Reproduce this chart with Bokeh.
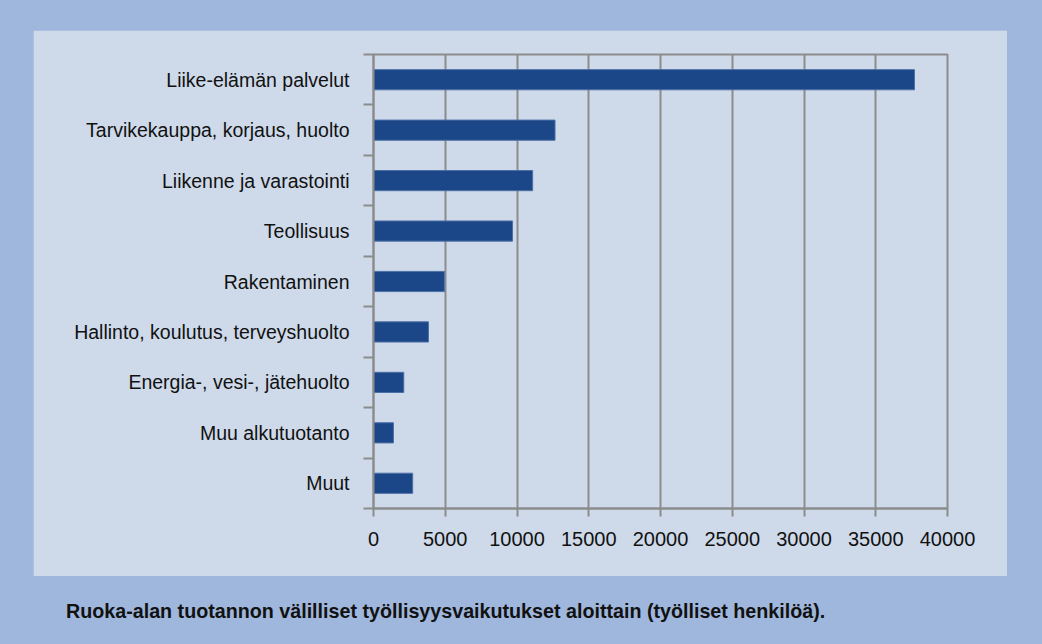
from bokeh.plotting import figure
from bokeh.models import Range1d, FixedTicker, LinearAxis, Div, Grid
from bokeh.layouts import column
from bokeh.embed import file_html
from bokeh.resources import INLINE

categories = [
    "Liike-elämän palvelut",
    "Tarvikekauppa, korjaus, huolto",
    "Liikenne ja varastointi",
    "Teollisuus",
    "Rakentaminen",
    "Hallinto, koulutus, terveyshuolto",
    "Energia-, vesi-, jätehuolto",
    "Muu alkutuotanto",
    "Muut",
]
values = [37700, 12650, 11090, 9690, 4940, 3830, 2110, 1390, 2730]
x_ticks = [0, 5000, 10000, 15000, 20000, 25000, 30000, 35000, 40000]
caption = "Ruoka-alan tuotannon välilliset työllisyysvaikutukset aloittain (työlliset henkilöä)."

FONT = "Liberation Sans, Arial, sans-serif"
GRID = "#8c8c8c"
OUTER = "#9fb7dc"
INNER = "#cedaea"
BAR = "#1b4687"

n = len(categories)
centers = [i + 0.5 for i in range(n)]
bounds = list(range(n + 1))

p = figure(width=974, height=546, output_backend="svg", toolbar_location=None,
           x_range=Range1d(x_ticks[0], x_ticks[-1]), y_range=Range1d(n, 0),
           x_axis_type=None, y_axis_type=None,
           min_border_left=340, min_border_right=60, min_border_top=24, min_border_bottom=68)
p.background_fill_color = INNER
p.border_fill_color = INNER
p.outline_line_color = GRID
p.outline_line_width = 2

p.hbar(y=centers, right=values, left=0, height=0.4, fill_color=BAR, line_color="#4d70a6", line_width=1)

xaxis = LinearAxis(ticker=FixedTicker(ticks=x_ticks, minor_ticks=[]))
xaxis.axis_line_color = GRID
xaxis.axis_line_width = 2
xaxis.major_tick_line_color = GRID
xaxis.major_tick_line_width = 2
xaxis.major_tick_in = 0
xaxis.major_tick_out = 8
xaxis.major_label_standoff = 15
xaxis.major_label_text_font = FONT
xaxis.major_label_text_font_size = "20px"
xaxis.major_label_text_color = "#111111"
p.add_layout(xaxis, "below")

yaxis = LinearAxis(ticker=FixedTicker(ticks=centers, minor_ticks=bounds))
yaxis.major_label_overrides = {c: name for c, name in zip(centers, categories)}
yaxis.axis_line_color = GRID
yaxis.axis_line_width = 2
yaxis.major_tick_line_color = None
yaxis.major_tick_in = 0
yaxis.major_tick_out = 0
yaxis.minor_tick_line_color = GRID
yaxis.minor_tick_line_width = 2
yaxis.minor_tick_in = 0
yaxis.minor_tick_out = 10
yaxis.major_label_standoff = 14
yaxis.major_label_text_font = FONT
yaxis.major_label_text_font_size = "19.5px"
yaxis.major_label_text_color = "#111111"
p.add_layout(yaxis, "left")

p.xgrid.visible = False
p.ygrid.visible = False
g = Grid(dimension=0, ticker=FixedTicker(ticks=x_ticks[1:-1]), grid_line_color=GRID, grid_line_width=2)
p.add_layout(g)

cap = Div(text=('<div style="margin-left:28px; margin-top:18px; font-family:%s; '
                'font-weight:bold; font-size:19.7px; line-height:24px; color:#111111; white-space:nowrap;">%s</div>')
               % (FONT, caption),
          width=974, height=59)

layout = column(p, cap, styles={"background-color": OUTER, "padding": "30px 34px 10px 33px"}, spacing=0)

open("out.html", "w").write(file_html(layout, INLINE))
